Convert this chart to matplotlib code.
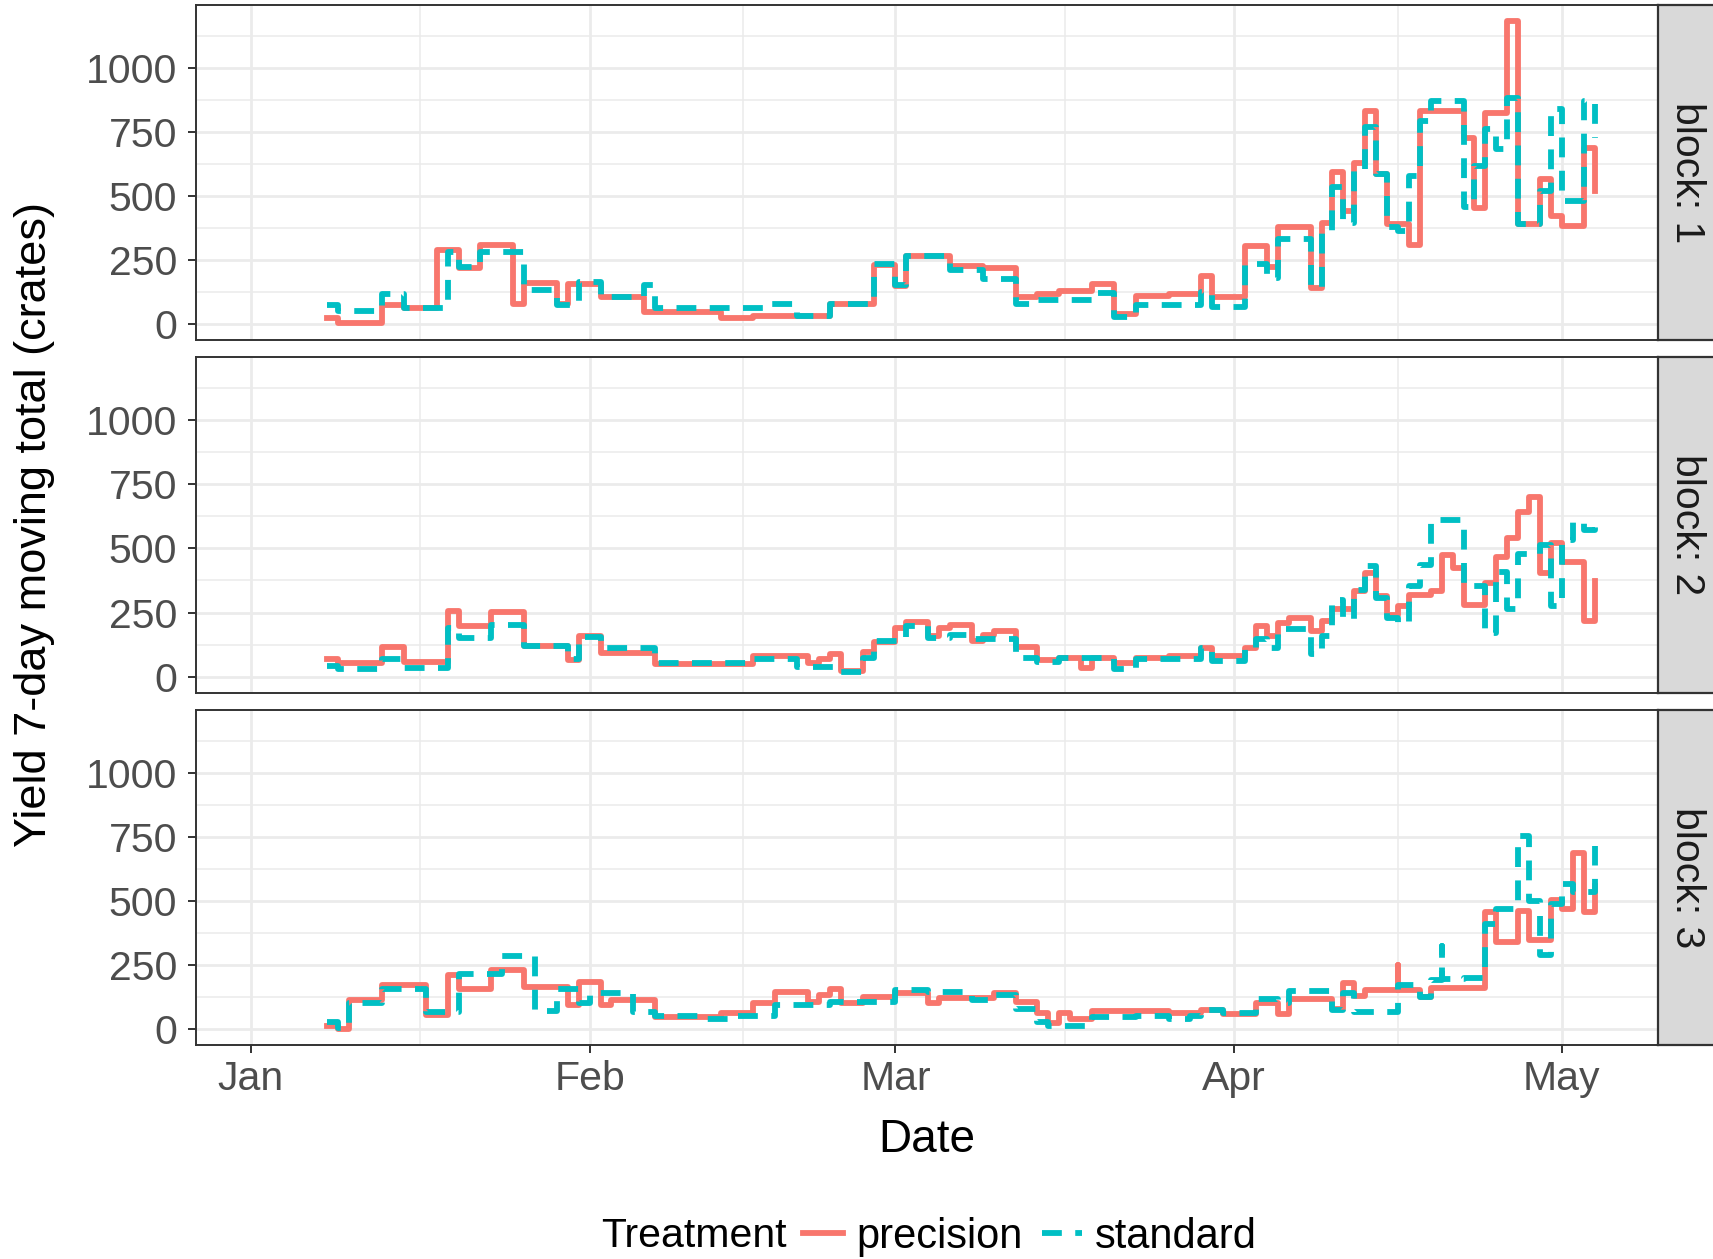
import numpy as np
import matplotlib
matplotlib.use("Agg")
import matplotlib.pyplot as plt
import matplotlib.dates as mdates
from matplotlib.lines import Line2D
from matplotlib.ticker import FixedLocator

plt.rcParams['font.family'] = ['Liberation Sans', 'DejaVu Sans']

# all day offsets count from this date
season_start = np.datetime64('2018-01-01')

# block 1: 7-day moving totals (crates), listed where the total changes
b1_prec_day = [7, 8, 12, 14, 17, 19, 21, 24, 25, 28, 29, 32, 36, 43, 46, 53, 57, 59, 60,
               64, 67, 70, 72, 74, 77, 79, 81, 84, 87, 88, 91, 93, 94, 97, 98, 99, 100,
               101, 102, 103, 104, 106, 107, 111, 112, 113, 115, 116, 118, 119, 120, 122, 123]
b1_prec_val = [22, 5, 74, 62, 290, 219, 307, 78, 160, 78, 158, 106, 48, 22, 31, 78, 229, 148, 264,
               227, 219, 106, 117, 130, 155, 39, 109, 119, 186, 104, 303, 223, 378, 142, 394, 592, 443,
               627, 831, 585, 389, 307, 831, 728, 453, 825, 1184, 389, 566, 420, 381, 689, 518]
b1_std_day = [7, 8, 12, 14, 18, 19, 21, 25, 28, 30, 32, 36, 37, 47, 50, 53, 57, 59, 60,
              64, 67, 70, 72, 77, 79, 81, 87, 88, 91, 93, 94, 97, 98, 99, 100, 101, 102,
              103, 104, 105, 106, 107, 108, 111, 112, 113, 114, 115, 116, 118, 119, 120, 122, 123]
b1_std_val = [74, 52, 119, 61, 281, 223, 281, 132, 74, 164, 106, 151, 64, 78, 31, 78, 236, 152, 264,
              212, 177, 78, 95, 122, 28, 74, 126, 67, 236, 180, 333, 145, 365, 534, 394, 598, 769,
              585, 378, 365, 579, 793, 870, 456, 618, 760, 682, 883, 391, 521, 838, 482, 870, 728]

# block 2
b2_prec_day = [7, 8, 12, 14, 18, 19, 22, 25, 29, 30, 32, 37, 46, 51, 52, 53, 54, 56, 57, 59,
               60, 62, 63, 64, 66, 67, 68, 70, 72, 74, 76, 77, 79, 81, 84, 87, 88, 91, 92, 93,
               94, 95, 97, 98, 99, 101, 102, 103, 104, 105, 106, 108, 109, 110, 111, 113, 114,
               115, 116, 117, 118, 119, 120, 122, 123]
b2_prec_val = [67, 54, 115, 58, 255, 197, 253, 119, 63, 158, 93, 50, 80, 54, 67, 87, 22, 96, 136, 188,
               212, 158, 190, 201, 139, 164, 177, 115, 63, 74, 35, 74, 54, 74, 80, 110, 80, 113, 197, 158,
               210, 229, 177, 216, 265, 335, 404, 313, 242, 275, 320, 335, 475, 423, 281, 365, 465,
               540, 644, 702, 404, 521, 449, 216, 372]
b2_std_day = [7, 8, 12, 14, 18, 19, 22, 25, 29, 30, 32, 37, 46, 50, 54, 56, 57, 60, 62, 64,
              66, 70, 72, 74, 79, 81, 87, 88, 91, 92, 93, 94, 97, 98, 99, 100, 101, 102, 103,
              104, 105, 106, 107, 108, 111, 113, 114, 115, 116, 118, 119, 120, 121, 122, 123]
b2_std_val = [41, 28, 67, 35, 190, 152, 203, 119, 67, 154, 110, 54, 67, 38, 19, 71, 139, 197, 152, 164,
              145, 71, 58, 71, 28, 67, 113, 61, 113, 145, 110, 184, 87, 158, 300, 223, 339, 430, 307,
              229, 210, 352, 436, 611, 352, 171, 410, 262, 478, 514, 275, 534, 605, 572, 592]

# block 3 (day 105 / 109 repeat: single-day spikes)
b3_prec_day = [7, 8, 9, 12, 16, 18, 19, 22, 25, 29, 30, 32, 33, 37, 43, 46, 48, 51, 52, 53,
               54, 56, 59, 62, 63, 68, 70, 72, 73, 74, 75, 77, 84, 87, 89, 92, 94, 95, 99, 100,
               101, 102, 105, 105, 107, 108, 113, 114, 116, 117, 119, 120, 121, 122, 123]
b3_prec_val = [12, 0, 115, 171, 54, 210, 158, 229, 164, 93, 184, 93, 113, 48, 63, 102, 145, 106, 132, 158,
               102, 126, 141, 102, 123, 141, 106, 61, 25, 63, 38, 71, 63, 76, 58, 100, 58, 116, 80, 180,
               128, 154, 249, 154, 126, 162, 456, 339, 460, 348, 504, 469, 689, 456, 559]
b3_std_day = [7, 8, 9, 12, 16, 19, 23, 26, 28, 30, 31, 35, 37, 41, 44, 48, 53, 59, 62, 66,
              68, 70, 72, 73, 77, 81, 84, 86, 87, 89, 92, 94, 95, 99, 100, 101, 105, 107, 108,
              109, 109, 111, 113, 114, 116, 117, 118, 119, 120, 121, 123]
b3_std_val = [28, 3, 100, 158, 67, 216, 284, 71, 158, 100, 139, 67, 50, 38, 50, 93, 106, 152, 145, 113,
              132, 80, 28, 12, 48, 50, 38, 50, 76, 63, 119, 100, 149, 74, 139, 67, 171, 126, 190,
              326, 197, 201, 410, 469, 754, 501, 288, 488, 566, 534, 715]

block_labels = ['block: 1', 'block: 2', 'block: 3']
treatments = ['precision', 'standard']
colors = {'precision': '#F8766D', 'standard': '#00BFC4'}
line_w = 4.2
dash = (0, (3.4, 2.3))

series = [
    {'precision': (b1_prec_day, b1_prec_val), 'standard': (b1_std_day, b1_std_val)},
    {'precision': (b2_prec_day, b2_prec_val), 'standard': (b2_std_day, b2_std_val)},
    {'precision': (b3_prec_day, b3_prec_val), 'standard': (b3_std_day, b3_std_val)},
]


def to_dates(days):
    return season_start + np.array(days, dtype='timedelta64[D]')


W, H = 1713, 1259
fig = plt.figure(figsize=(W / 100, H / 100), dpi=100)

left, right = 196, 1658
tops = [5, 357.5, 710]
ph = 335

x_lo = mdates.date2num(season_start) - 5.03
x_hi = mdates.date2num(season_start) + 128.8
months = [mdates.date2num(np.datetime64(f'2018-{m:02d}-01')) for m in range(1, 6)]
mid_months = [(a + b) / 2 for a, b in zip(months[:-1], months[1:])]

grey20 = '#333333'
for i, top in enumerate(tops):
    ax = fig.add_axes([left / W, 1 - (top + ph) / H, (right - left) / W, ph / H])
    for trt in treatments:
        d, v = series[i][trt]
        if trt == 'precision':
            ax.step(to_dates(d), v, where='post', color=colors[trt], lw=line_w,
                    solid_joinstyle='round', zorder=3)
        else:
            ax.step(to_dates(d), v, where='post', color=colors[trt], lw=line_w,
                    linestyle=dash, dash_capstyle='butt', dash_joinstyle='round', zorder=4)

    ax.set_xlim(x_lo, x_hi)
    ax.set_ylim(-62, 1245)
    ax.set_yticks([0, 250, 500, 750, 1000])
    ax.yaxis.set_minor_locator(FixedLocator([125, 375, 625, 875, 1125]))
    ax.xaxis.set_major_locator(FixedLocator(months))
    ax.xaxis.set_minor_locator(FixedLocator(mid_months))
    ax.xaxis.set_major_formatter(mdates.DateFormatter('%b'))

    ax.grid(which='major', color='#EBEBEB', lw=2.0, zorder=0)
    ax.grid(which='minor', color='#EBEBEB', lw=1.1, zorder=0)
    ax.set_axisbelow(True)
    for sp in ax.spines.values():
        sp.set_color(grey20)
        sp.set_linewidth(1.4)

    ax.tick_params(axis='y', which='major', length=5.5, width=1.4, color=grey20,
                   labelsize=29.5, labelcolor='#4D4D4D', pad=8)
    ax.tick_params(which='minor', length=0)
    if i < 2:
        ax.tick_params(axis='x', which='major', length=0, labelbottom=False)
    else:
        ax.tick_params(axis='x', which='major', length=5.5, width=1.4, color=grey20,
                       labelsize=29.5, labelcolor='#4D4D4D', pad=5)

    # facet strip on the right
    sax = fig.add_axes([right / W, 1 - (top + ph) / H, 62 / W, ph / H])
    sax.set_facecolor('#D9D9D9')
    sax.set_xticks([])
    sax.set_yticks([])
    for sp in sax.spines.values():
        sp.set_color(grey20)
        sp.set_linewidth(1.6)
    sax.text(0.47, 0.5, block_labels[i], rotation=-90, ha='center', va='center',
             fontsize=29.5, color='#1A1A1A', transform=sax.transAxes)

fig.text(35 / W, 1 - 525 / H, 'Yield 7-day moving total (crates)', rotation=90,
         ha='center', va='center', fontsize=32.5, color='black')
fig.text((left + right) / 2 / W, 1 - 1140 / H, 'Date', ha='center', va='center',
         fontsize=33, color='black')

handles = [Line2D([], [], color=colors['precision'], lw=line_w),
           Line2D([], [], color=colors['standard'], lw=line_w, linestyle=dash)]
fig.legend(handles, treatments, loc='center', bbox_to_anchor=(1030 / W, 1 - 1237 / H),
           ncol=2, frameon=False, fontsize=30, handlelength=0.96, handletextpad=0.31,
           columnspacing=0.47, borderpad=0, borderaxespad=0)
fig.text(787 / W, 1 - 1236 / H, 'Treatment', ha='right', va='center', fontsize=29.5,
         color='black')

fig.savefig('out.png', dpi=100, facecolor='white')
